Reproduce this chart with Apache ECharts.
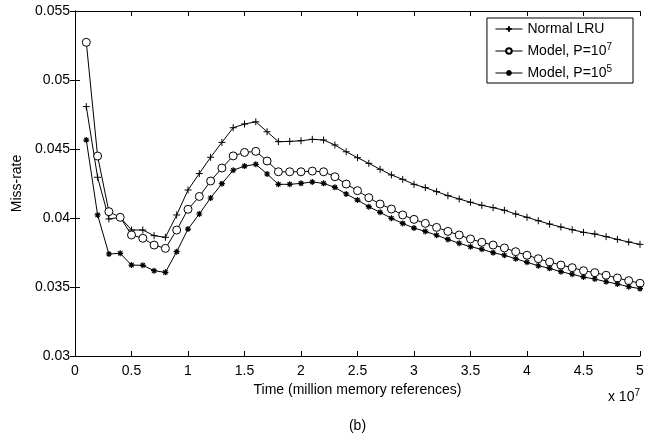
<!DOCTYPE html>
<html>
<head>
<meta charset="utf-8">
<script src="https://cdn.jsdelivr.net/npm/echarts@6/dist/echarts.min.js"></script>
<style>html,body{margin:0;padding:0;background:#fff}#c{width:654px;height:438px}</style>
</head>
<body>
<div id="c"></div>
<script>
// Time in units of 1e7 memory references
var time = [0.1,0.2,0.3,0.4,0.5,0.6,0.7,0.8,0.9,1.0,
            1.1,1.2,1.3,1.4,1.5,1.6,1.7,1.8,1.9,2.0,
            2.1,2.2,2.3,2.4,2.5,2.6,2.7,2.8,2.9,3.0,
            3.1,3.2,3.3,3.4,3.5,3.6,3.7,3.8,3.9,4.0,
            4.1,4.2,4.3,4.4,4.5,4.6,4.7,4.8,4.9,5.0];
var normalLRU = [0.04807,0.04295,0.03993,0.04005,0.03913,0.03913,0.03872,0.03860,0.04022,0.04203,
                 0.04322,0.04440,0.04548,0.04654,0.04681,0.04697,0.04625,0.04553,0.04555,0.04560,
                 0.04570,0.04565,0.04529,0.04480,0.04437,0.04396,0.04353,0.04312,0.04280,0.04244,
                 0.04220,0.04191,0.04162,0.04138,0.04114,0.04092,0.04075,0.04056,0.04029,0.04005,
                 0.03980,0.03956,0.03935,0.03915,0.03896,0.03884,0.03865,0.03845,0.03826,0.03809];
var modelP7 = [0.05273,0.04449,0.04046,0.04005,0.03877,0.03853,0.03804,0.03780,0.03913,0.04063,
               0.04156,0.04268,0.04362,0.04450,0.04475,0.04483,0.04413,0.04335,0.04335,0.04335,
               0.04340,0.04335,0.04299,0.04246,0.04198,0.04147,0.04101,0.04065,0.04022,0.03990,
               0.03961,0.03932,0.03903,0.03877,0.03848,0.03824,0.03804,0.03783,0.03756,0.03730,
               0.03705,0.03681,0.03659,0.03640,0.03618,0.03604,0.03585,0.03565,0.03546,0.03527];
var modelP5 = [0.04565,0.04022,0.03739,0.03744,0.03659,0.03657,0.03618,0.03606,0.03756,0.03920,
               0.04029,0.04145,0.04249,0.04346,0.04376,0.04389,0.04319,0.04244,0.04244,0.04251,
               0.04261,0.04251,0.04222,0.04174,0.04130,0.04082,0.04041,0.03998,0.03961,0.03927,
               0.03903,0.03875,0.03845,0.03817,0.03792,0.03773,0.03749,0.03730,0.03705,0.03679,
               0.03654,0.03635,0.03611,0.03592,0.03572,0.03558,0.03538,0.03522,0.03502,0.03488];
var seriesNames = ['Normal LRU', 'Model, P=10^7', 'Model, P=10^5'];
var xTickLabels = ['0','0.5','1','1.5','2','2.5','3','3.5','4','4.5','5'];
var yTickLabels = ['0.03','0.035','0.04','0.045','0.05','0.055'];

var FONT = 'Liberation Sans, Arial, Helvetica, sans-serif';
var FS = 14;
var plusSym = 'path://M0,-1L0,1M-1,0L1,0';
var starSym = 'path://M0,-1L0,1M-1,0L1,0M-0.7,-0.7L0.7,0.7M-0.7,0.7L0.7,-0.7';
var circSym = 'path://M-1,0A1,1,0,1,0,1,0A1,1,0,1,0,-1,0Z';

function pairs(arr){ return time.map(function(t,i){ return [t, arr[i]]; }); }
function mkSeries(name, arr, sym, size, bw, fill){
  return {
    name: name, type: 'line', data: pairs(arr), clip: false,
    symbol: sym, symbolSize: size, showSymbol: true,
    lineStyle: {color: '#000', width: 1},
    itemStyle: {color: fill, borderColor: '#000', borderWidth: bw},
    emphasis: {disabled: true}, animation: false
  };
}
var axisLineStyle = {show: true, lineStyle: {color: '#000', width: 1}};
var chart = echarts.init(document.getElementById('c'), null, {renderer: 'canvas'});
chart.setOption({
  animation: false,
  backgroundColor: '#fff',
  textStyle: {fontFamily: FONT},
  grid: {left: 75, right: 14, top: 11, bottom: 82},
  xAxis: [{
    type: 'value', min: 0, max: 5, interval: 0.5, position: 'bottom',
    axisLine: axisLineStyle,
    axisTick: {show: true, inside: true, length: 5, lineStyle: {color: '#000'}},
    axisLabel: {color: '#000', fontSize: FS, fontFamily: FONT, margin: 8,
      formatter: function(v, i){ return xTickLabels[i]; }},
    splitLine: {show: false},
    name: 'Time (million memory references)', nameLocation: 'middle', nameGap: 27,
    nameTextStyle: {color: '#000', fontSize: FS, fontFamily: FONT}
  }, {
    type: 'value', min: 0, max: 5, interval: 0.5, position: 'top',
    axisLine: axisLineStyle,
    axisTick: {show: true, inside: true, length: 5, lineStyle: {color: '#000'}},
    axisLabel: {show: false}, splitLine: {show: false}
  }],
  yAxis: [{
    type: 'value', min: 0.03, max: 0.055, interval: 0.005, position: 'left',
    axisLine: axisLineStyle,
    axisTick: {show: true, inside: true, length: 5, lineStyle: {color: '#000'}},
    axisLabel: {color: '#000', fontSize: FS, fontFamily: FONT, margin: 5,
      formatter: function(v, i){ return yTickLabels[i]; }},
    splitLine: {show: false},
    name: 'Miss-rate', nameLocation: 'middle', nameGap: 41, nameRotate: 90,
    nameTextStyle: {color: '#000', fontSize: FS, fontFamily: FONT}
  }, {
    type: 'value', min: 0.03, max: 0.055, interval: 0.005, position: 'right',
    axisLine: axisLineStyle,
    axisTick: {show: true, inside: true, length: 5, lineStyle: {color: '#000'}},
    axisLabel: {show: false}, splitLine: {show: false}
  }],
  legend: {
    right: 21, top: 18, orient: 'vertical', align: 'left',
    backgroundColor: '#fff', borderColor: '#000', borderWidth: 1, borderRadius: 0,
    padding: [2, 21, 1, 8], itemGap: 4, itemWidth: 27, itemHeight: 7,
    data: seriesNames,
    lineStyle: {width: 1, color: '#000'},
    formatter: function(n){ return n.replace(/\^(\d+)/, '{sup|$1}'); },
    textStyle: {color: '#000', fontSize: FS, fontFamily: FONT, lineHeight: 18,
      rich: {sup: {fontSize: 10, fontFamily: FONT, color: '#000', padding: [0,0,8,0]}}}
  },
  graphic: [{
    type: 'text', x: 640, y: 397,
    style: {text: 'x 10{sup|7}', align: 'right', verticalAlign: 'middle',
      fill: '#000', fontSize: FS, fontFamily: FONT,
      rich: {sup: {fontSize: 10, fontFamily: FONT, fill: '#000', padding: [0,0,8,0]}}}
  }, {
    type: 'text', x: 357.5, y: 426,
    style: {text: '(b)', align: 'center', verticalAlign: 'middle',
      fill: '#000', fontSize: FS, fontFamily: FONT}
  }],
  series: [
    mkSeries(seriesNames[0], normalLRU, plusSym, 7, 1, '#000'),
    mkSeries(seriesNames[1], modelP7, circSym, 8, 1, '#fff'),
    mkSeries(seriesNames[2], modelP5, starSym, 6, 1.2, '#000')
  ]
});
</script>
</body>
</html>
